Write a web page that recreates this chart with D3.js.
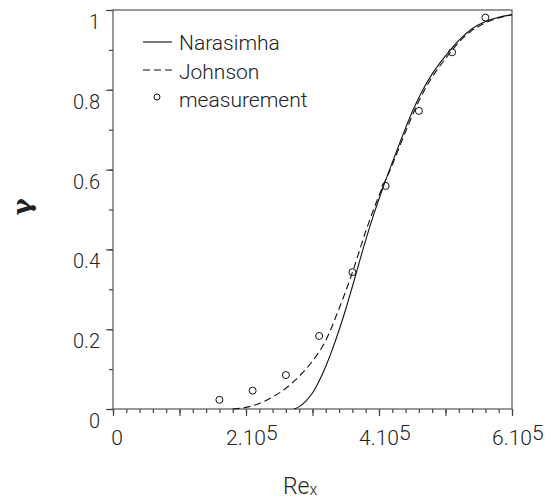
<!DOCTYPE html>
<html>
<head>
<meta charset="utf-8">
<script src="https://cdn.jsdelivr.net/npm/d3@7"></script>
<style>
  body { margin: 0; background: #fff; }
  text { font-family: "Roboto", "Liberation Sans", sans-serif; font-weight: 300; fill: #222; }
</style>
</head>
<body>
<div id="chart"></div>
<script>
// Daten
var narasimhaX = [272000, 280000, 290000, 300000, 310000, 320000, 330000, 340000, 350000, 360000, 375000, 390000,
                  405000, 420000, 435000, 450000, 465000, 480000, 500000, 520000, 540000, 560000, 580000, 600000];
var narasimhaY = [0, 0.006, 0.02, 0.04, 0.07, 0.107, 0.15, 0.198, 0.25, 0.307, 0.395, 0.477,
                  0.55, 0.618, 0.683, 0.745, 0.797, 0.84, 0.885, 0.924, 0.953, 0.971, 0.982, 0.988];

var johnsonX = [180000, 200000, 220000, 240000, 260000, 280000, 300000, 320000, 340000, 360000, 380000,
                400000, 420000, 440000, 460000, 480000, 500000, 520000, 540000, 560000, 580000, 600000];
var johnsonY = [0, 0.004, 0.014, 0.03, 0.052, 0.082, 0.12, 0.172, 0.252, 0.342, 0.445,
                0.535, 0.612, 0.695, 0.772, 0.832, 0.878, 0.919, 0.949, 0.968, 0.98, 0.988];

var measX = [160000, 210000, 260000, 310000, 360000, 410000, 460000, 510000, 560000];
var measY = [0.023, 0.046, 0.085, 0.183, 0.343, 0.559, 0.747, 0.894, 0.981];

// Achsenbeschriftung
var xTickValues = [0, 200000, 400000, 600000];
var xTickBase = ["0", "2.10", "4.10", "6.10"];
var xTickSup = ["", "5", "5", "5"];
var yTickValues = [0, 0.2, 0.4, 0.6, 0.8, 1];
var yTickLabels = ["0", "0.2", "0.4", "0.6", "0.8", "1"];

var legendNames = ["Narasimha", "Johnson", "measurement"];

//svg
var width = 554;
var height = 502;
var margin = {left: 113, top: 10};
var plotW = 399;
var plotH = 399;

var svg = d3.select("#chart")
  .append("svg")
  .attr("width", width)
  .attr("height", height);

var g = svg.append("g")
  .attr("transform", "translate(" + margin.left + "," + margin.top + ")");

var x = d3.scaleLinear().domain([0, 600000]).range([0, plotW]);
var y = d3.scaleLinear().domain([0, 1]).range([plotH, 0]);

//Ticks x
var xMinor = d3.axisBottom(x).tickValues(d3.range(0, 600001, 20000)).tickSize(4).tickSizeOuter(0).tickFormat("");
var xMajor = d3.axisBottom(x).tickValues(d3.range(0, 600001, 100000)).tickSize(7).tickSizeOuter(0).tickFormat("");
[xMinor, xMajor].forEach(function(ax) {
  var a = g.append("g").attr("transform", "translate(0," + plotH + ")").call(ax);
  a.select(".domain").remove();
  a.selectAll("line").attr("stroke", "#444").attr("stroke-width", 1.2);
});

//Ticks y
var yMinor = d3.axisLeft(y).tickValues(d3.range(0, 1.001, 0.1)).tickSize(4).tickSizeOuter(0).tickFormat("");
var yMajor = d3.axisLeft(y).tickValues(yTickValues).tickSize(7).tickSizeOuter(0).tickFormat("");
[yMinor, yMajor].forEach(function(ax) {
  var a = g.append("g").call(ax);
  a.select(".domain").remove();
  a.selectAll("line").attr("stroke", "#444").attr("stroke-width", 1.2);
});

//Rahmen
g.append("rect")
  .attr("x", 0)
  .attr("y", 0)
  .attr("width", plotW)
  .attr("height", plotH)
  .attr("fill", "none")
  .attr("stroke", "#555")
  .attr("stroke-width", 1.2);

//Labels y
g.selectAll("text.ylab")
  .data(yTickValues)
  .enter()
  .append("text")
  .attr("class", "ylab")
  .attr("x", -13)
  .attr("y", function(d) { return y(d) + 19; })
  .attr("text-anchor", "end")
  .attr("font-size", 20)
  .text(function(d, i) { return yTickLabels[i]; });

//Labels x mit Hochzahl
xTickValues.forEach(function(v, i) {
  var t = g.append("text")
    .attr("x", x(v) + (v === 0 ? 4 : 0))
    .attr("y", plotH + 36)
    .attr("text-anchor", "middle")
    .attr("font-size", 21)
    .text(xTickBase[i]);
  if (xTickSup[i] !== "") {
    var w = t.node().getComputedTextLength();
    g.append("text")
      .attr("x", x(v) + w / 2)
      .attr("y", plotH + 31)
      .attr("font-size", 21)
      .text(xTickSup[i]);
  }
});

//Kurven
var line = d3.line()
  .x(function(d) { return x(d[0]); })
  .y(function(d) { return y(d[1]); })
  .curve(d3.curveMonotoneX);

g.append("path")
  .datum(d3.zip(narasimhaX, narasimhaY))
  .attr("d", line)
  .attr("fill", "none")
  .attr("stroke", "#111")
  .attr("stroke-width", 1.1);

g.append("path")
  .datum(d3.zip(johnsonX, johnsonY))
  .attr("d", line)
  .attr("fill", "none")
  .attr("stroke", "#111")
  .attr("stroke-width", 1.1)
  .attr("stroke-dasharray", "7,4");

//Messpunkte
g.selectAll("circle.meas")
  .data(d3.zip(measX, measY))
  .enter()
  .append("circle")
  .attr("class", "meas")
  .attr("cx", function(d) { return x(d[0]); })
  .attr("cy", function(d) { return y(d[1]); })
  .attr("r", 3.5)
  .attr("fill", "none")
  .attr("stroke", "#111")
  .attr("stroke-width", 1);

//Legende
svg.append("line")
  .attr("x1", 143).attr("x2", 172).attr("y1", 42).attr("y2", 42)
  .attr("stroke", "#111").attr("stroke-width", 1.1);
svg.append("line")
  .attr("x1", 143).attr("x2", 172).attr("y1", 70).attr("y2", 70)
  .attr("stroke", "#111").attr("stroke-width", 1.1)
  .attr("stroke-dasharray", "7,4");
svg.append("circle")
  .attr("cx", 157).attr("cy", 97).attr("r", 3)
  .attr("fill", "none").attr("stroke", "#111").attr("stroke-width", 1);
svg.selectAll("text.leg")
  .data(legendNames)
  .enter()
  .append("text")
  .attr("class", "leg")
  .attr("x", 179)
  .attr("y", function(d, i) { return 50 + i * 28.5; })
  .attr("font-size", 21)
  .text(function(d) { return d; });

//Achsentitel
svg.append("text")
  .attr("transform", "translate(31,207) rotate(-90)")
  .attr("text-anchor", "middle")
  .attr("font-size", 26)
  .style("font-family", "DejaVu Serif")
  .style("font-weight", "bold")
  .text("γ");

var rex = svg.append("text")
  .attr("x", 283)
  .attr("y", 494)
  .attr("font-size", 23);
rex.append("tspan").text("Re");
rex.append("tspan").attr("font-size", 16).attr("dy", 1).text("x");
</script>
</body>
</html>
